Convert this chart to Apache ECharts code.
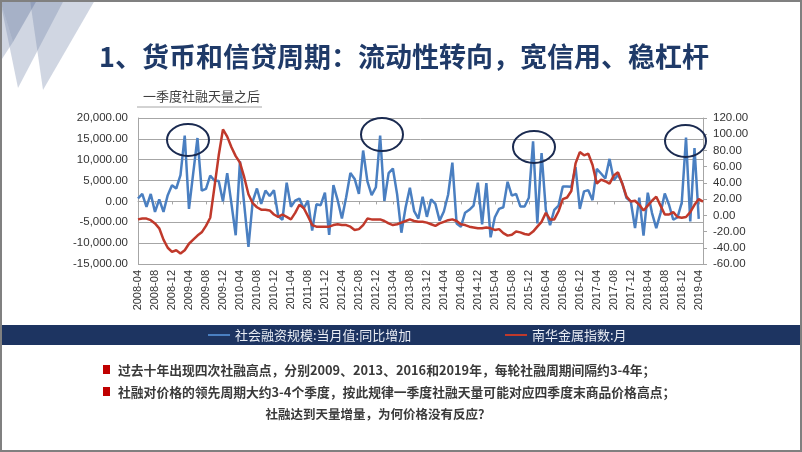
<!DOCTYPE html>
<html>
<head>
<meta charset="utf-8">
<script src="https://cdn.jsdelivr.net/npm/echarts@6/dist/echarts.min.js"></script>
<style>
html,body{margin:0;padding:0;background:#fff;}
#c{width:802px;height:452px;}
</style>
</head>
<body>
<div id="c"></div>
<script>
// ---- data ----
const startYear = 2008, startMonth = 4, monthCount = 134;
const categories = [];
for (let k = 0; k < monthCount; k++) {
  const y = startYear + Math.floor((startMonth - 1 + k) / 12);
  const m = (startMonth - 1 + k) % 12 + 1;
  categories.push(y + '-' + String(m).padStart(2, '0'));
}
const tsfName = '社会融资规模:当月值:同比增加';
const metalName = '南华金属指数:月';
// 社会融资规模:当月值:同比增加 (left axis)
const tsfYoY = [
  700, 1800, -1300, 1800, -2500, 500, -2500, 1500, 3900, 3100,
  6300, 15800, -1800, 6800, 15200, 2600, 3000, 6200, 5000, 4900,
  0, 6800, -600, -8100, 9600, -700, -10900, 0, 3100, -600,
  2600, 1300, 2700, -3500, -4400, 4500, -1300, 200, 700, -1700,
  200, -7000, -700, -900, 2100, -8000, 3900, 300, -4100, 1000,
  6800, 5400, 1800, 12200, 4800, 1500, 3400, 15800, 100, 6800,
  7900, 1700, -7500, -1400, 3300, -2300, -4100, 1100, -3700, 500,
  -600, -4600, -2400, 1600, 9300, -5300, -6100, -2700, -2000, -1000,
  4500, -5500, 4400, -8600, -3800, -1800, -1400, 4700, 1400, 1800,
  -1200, -1200, 900, 14400, -5300, 11600, -2000, -5700, -2000, -1000,
  3600, 3600, 3500, 8200, -1800, 2400, 2700, 300, 7800, 6700,
  5500, 10200, 5100, 6400, 4300, 800, 0, -6400, 900, -8200,
  2100, -2800, -6400, -2800, 1900, -800, -4400, -3800, -300, 15300,
  -4800, 12800, -4200
];
// 南华金属指数:月 (right axis)
const metalIdx = [
  -5, -4, -4, -6, -10, -16, -30, -40, -45, -43,
  -47, -43, -35, -30, -25, -21, -13, -3, 35, 74,
  106, 97, 84, 73, 65, 47, 26, 15, 10, 7,
  7, 6, 1, -2, 1, -2, -5, 3, 13, 9,
  -1, -12, -14, -14, -14, -14, -12, -11, -12, -12,
  -14, -18, -17, -12, -4, -5, -5, -5, -7, -10,
  -12, -11, -9, -7, -5, -7, -8, -8, -9, -11,
  -13, -10, -8, -6, -5, -7, -11, -12, -14, -15,
  -16, -16, -15, -16, -18, -17, -22, -25, -24, -20,
  -21, -23, -24, -20, -14, -8, 3, -5, -5, 5,
  20, 22, 30, 64, 78, 74, 76, 62, 39, 44,
  42, 39, 49, 53, 39, 23, 17, 18, 13, 6,
  12, 18, 23, 12, 1, 1, 4, -2, -3, -2,
  4, 13, 20, 17
];
const leftTicks = {min: -15000, max: 20000, step: 5000};
const rightTicks = {min: -60, max: 120, step: 20};
const titleText = '1、货币和信贷周期：流动性转向，宽信用、稳杠杆';
const subtitleText = '一季度社融天量之后';
const bulletLines = [
  '过去十年出现四次社融高点，分别2009、2013、2016和2019年，每轮社融周期间隔约3-4年；',
  '社融对价格的领先周期大约3-4个季度，按此规律一季度社融天量可能对应四季度末商品价格高点；'
];
const questionText = '社融达到天量增量，为何价格没有反应？';

// ---- chart ----
const NUM = '"Liberation Sans", Arial, sans-serif';
const CJK = '"Noto Sans CJK SC", "Noto Sans", sans-serif';
function fmtNum(v) {
  const neg = v < 0; v = Math.abs(v);
  const s = v.toFixed(2);
  const parts = s.split('.');
  parts[0] = parts[0].replace(/\B(?=(\d{3})+(?!\d))/g, ',');
  return (neg ? '-' : '') + parts.join('.');
}
const chart = echarts.init(document.getElementById('c'), null, {renderer: 'canvas'});
const navy = '#1d3461';
const ellipseStyle = {stroke: '#1a2a50', lineWidth: 2, fill: null};
const legendText = {color: '#e8ecf4', fontSize: 13, fontFamily: CJK, lineHeight: 16};
const option = {
  backgroundColor: '#ffffff',
  animation: false,
  grid: {left: 138, right: 99, top: 118, bottom: 188, containLabel: false},
  xAxis: [{
    type: 'category',
    data: categories,
    boundaryGap: false,
    axisLine: {show: false, onZero: false},
    axisTick: {show: false},
    axisLabel: {interval: 3, rotate: 90, margin: 6, fontSize: 11, color: '#333', fontFamily: NUM},
    splitLine: {show: false}
  }, {
    type: 'category',
    data: categories,
    boundaryGap: false,
    position: 'bottom',
    axisLine: {show: true, onZero: true, onZeroAxisIndex: 0, lineStyle: {color: '#a6a6a6', width: 1}},
    axisTick: {show: true, interval: 3, length: 3, lineStyle: {color: '#a6a6a6'}},
    axisLabel: {show: false},
    splitLine: {show: false}
  }],
  yAxis: [{
    type: 'value',
    min: leftTicks.min, max: leftTicks.max, interval: leftTicks.step,
    axisLine: {show: true, lineStyle: {color: '#a6a6a6', width: 1}},
    axisTick: {show: false},
    axisLabel: {margin: 10, fontSize: 11.5, color: '#333', fontFamily: NUM, formatter: fmtNum},
    splitLine: {show: true, lineStyle: {color: '#a6a6a6', width: 1}}
  }, {
    type: 'value',
    position: 'right',
    min: rightTicks.min, max: rightTicks.max, interval: rightTicks.step,
    axisLine: {show: true, lineStyle: {color: '#a6a6a6', width: 1}},
    axisTick: {show: true, length: 4, lineStyle: {color: '#a6a6a6'}},
    axisLabel: {margin: 10, fontSize: 11.5, color: '#333', fontFamily: NUM, formatter: fmtNum},
    splitLine: {show: false}
  }],
  legend: [{
    data: [tsfName], left: 208, top: 327, padding: 0, itemWidth: 22, itemHeight: 2, icon: 'rect', itemGap: 4,
    textStyle: legendText
  }, {
    data: [metalName], left: 505, top: 327, padding: 0, itemWidth: 22, itemHeight: 2, icon: 'rect', itemGap: 4,
    textStyle: legendText
  }],
  series: [{
    name: tsfName, type: 'line', xAxisIndex: 0, yAxisIndex: 0,
    data: tsfYoY, symbol: 'none', smooth: false,
    lineStyle: {color: '#4a7fc1', width: 2.5}, itemStyle: {color: '#4a7fc1'}, z: 3
  }, {
    name: metalName, type: 'line', xAxisIndex: 0, yAxisIndex: 1,
    data: metalIdx, symbol: 'none', smooth: false,
    lineStyle: {color: '#c0392b', width: 2.5}, itemStyle: {color: '#c0392b'}, z: 4
  }],
  graphic: [
    // slide frame
    {type: 'rect', z: 100, shape: {x: 1, y: 1, width: 800, height: 450}, style: {stroke: '#808080', lineWidth: 2, fill: null}},
    // top-left decoration
    {type: 'polygon', z: 1, shape: {points: [[0,0],[64,0],[18,88]]}, style: {fill: 'rgba(120,138,172,0.35)'}},
    {type: 'polygon', z: 1, shape: {points: [[30,0],[95,0],[43,90]]}, style: {fill: 'rgba(120,138,172,0.35)'}},
    {type: 'polygon', z: 1, shape: {points: [[0,0],[37,0],[13,42]]}, style: {fill: 'rgba(90,110,150,0.35)'}},
    {type: 'polygon', z: 1, shape: {points: [[0,0],[0,62],[13,42]]}, style: {fill: 'rgba(120,138,172,0.35)'}},
    // title
    {type: 'text', z: 20, x: 404, y: 57, style: {text: titleText, fill: '#1f3a68', font: 'bold 27px ' + CJK, textAlign: 'center', textVerticalAlign: 'middle'}},
    // subtitle with underline
    {type: 'text', z: 20, x: 143, y: 96, style: {text: subtitleText, fill: '#404040', font: '13px ' + CJK, textAlign: 'left', textVerticalAlign: 'middle'}},
    {type: 'line', z: 20, shape: {x1: 137, y1: 107, x2: 262, y2: 107}, style: {stroke: '#a6a6a6', lineWidth: 1}},
    // legend band
    {type: 'rect', z: 0, shape: {x: 0, y: 325, width: 802, height: 20}, style: {fill: navy}},
    // annotation ellipses
    {type: 'ellipse', z: 30, shape: {cx: 188, cy: 140, rx: 21, ry: 16}, style: ellipseStyle},
    {type: 'ellipse', z: 30, shape: {cx: 382, cy: 134.5, rx: 21, ry: 16.5}, style: ellipseStyle},
    {type: 'ellipse', z: 30, shape: {cx: 534, cy: 147, rx: 21, ry: 16}, style: ellipseStyle},
    {type: 'ellipse', z: 30, shape: {cx: 685.5, cy: 141, rx: 20.5, ry: 16}, style: ellipseStyle},
    // bullets
    {type: 'rect', z: 20, shape: {x: 103, y: 365, width: 7, height: 9}, style: {fill: '#c00000'}},
    {type: 'text', z: 20, x: 118, y: 370, style: {text: bulletLines[0], fill: '#3a3a3a', font: 'bold 12.8px ' + CJK, textAlign: 'left', textVerticalAlign: 'middle'}},
    {type: 'rect', z: 20, shape: {x: 103, y: 387, width: 7, height: 9}, style: {fill: '#c00000'}},
    {type: 'text', z: 20, x: 118, y: 392, style: {text: bulletLines[1], fill: '#3a3a3a', font: 'bold 12.8px ' + CJK, textAlign: 'left', textVerticalAlign: 'middle'}},
    {type: 'text', z: 20, x: 378, y: 414, style: {text: questionText, fill: '#3a3a3a', font: 'bold 12.5px ' + CJK, textAlign: 'center', textVerticalAlign: 'middle'}}
  ]
};
chart.setOption(option);
</script>
</body>
</html>
